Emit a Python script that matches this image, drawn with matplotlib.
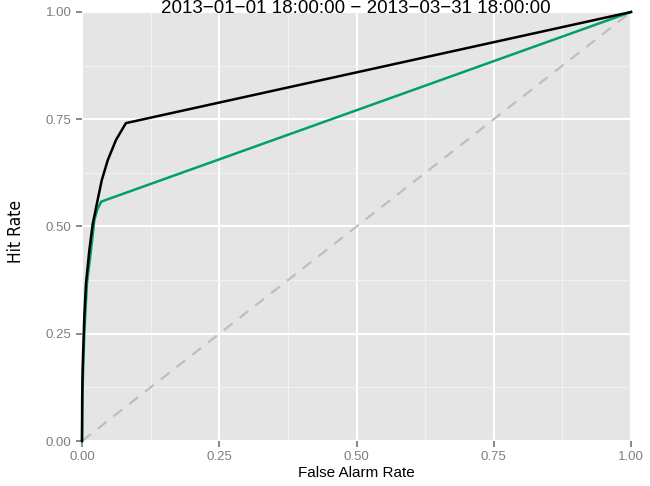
import matplotlib
matplotlib.use("Agg")
from matplotlib import pyplot as plt

# ROC curves (false alarm rate, hit rate)
far_black = [0.0, 0.0003, 0.0012, 0.0042, 0.0073, 0.0134, 0.0194, 0.0285, 0.036, 0.047, 0.062, 0.080, 1.0]
hit_black = [0.0, 0.096, 0.173, 0.29, 0.368, 0.445, 0.505, 0.562, 0.608, 0.655, 0.702, 0.741, 1.0]
far_green = [0.0, 0.001, 0.0042, 0.009, 0.0164, 0.0225, 0.028, 0.035, 1.0]
hit_green = [0.0, 0.12, 0.25, 0.368, 0.445, 0.515, 0.54, 0.558, 1.0]

ticks = [0.0, 0.25, 0.5, 0.75, 1.0]
tick_labels = ["0.00", "0.25", "0.50", "0.75", "1.00"]
minor = [0.125, 0.375, 0.625, 0.875]
title = "2013\u221201\u221201 18:00:00 \u2212 2013\u221203\u221231 18:00:00"

plt.rcParams['font.family'] = ['Liberation Sans', 'DejaVu Sans']

fig = plt.figure(figsize=(6.5, 4.86), dpi=100)
ax = fig.add_axes([82 / 650, 1 - 441 / 486, 549 / 650, 429 / 486])
ax.set_facecolor("#E5E5E5")
for s in ax.spines.values():
    s.set_visible(False)

ax.set_xlim(0, 1)
ax.set_ylim(0, 1)
ax.set_xticks(ticks)
ax.set_yticks(ticks)
ax.set_xticks(minor, minor=True)
ax.set_yticks(minor, minor=True)
ax.set_xticklabels(tick_labels)
ax.set_yticklabels(tick_labels)
ax.grid(True, which="major", color="white", lw=1.5)
ax.grid(True, which="minor", color="#F2F2F2", lw=0.8)
ax.set_axisbelow(True)
ax.tick_params(which="major", length=4.5, width=1.3, color="#7F7F7F",
               labelcolor="#7F7F7F", labelsize=9.5, pad=3)
ax.tick_params(which="minor", length=0)

ax.plot([0, 1], [0, 1], color="#BEBEBE", lw=1.6, dashes=(5, 4), zorder=2)
ax.plot(far_green, hit_green, color="#009E73", lw=1.8, zorder=3, clip_on=False)
ax.plot(far_black, hit_black, color="black", lw=1.8, zorder=4, clip_on=False)

ax.set_xlabel("False Alarm Rate", fontsize=11, labelpad=2)
fig.text(16 / 650, 1 - 231 / 486, "Hit Rate", rotation=90, ha="center", va="center",
         fontsize=12.5, family=['DejaVu Sans'], fontstretch='condensed')
fig.text(356 / 650, 1 - 13 / 486, title, ha="center", va="baseline", fontsize=13.5)

fig.savefig("out.png", dpi=100)
